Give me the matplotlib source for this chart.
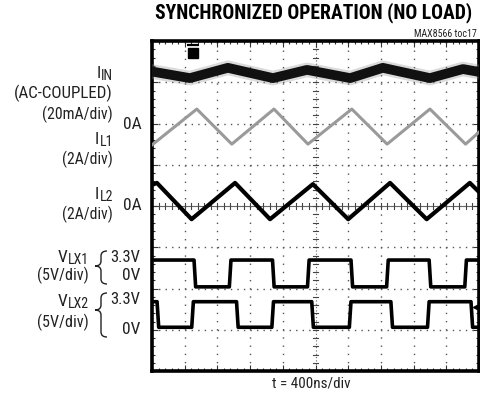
import matplotlib
matplotlib.use('Agg')
import matplotlib.pyplot as plt
from matplotlib import font_manager
from matplotlib.path import Path
from matplotlib.patches import PathPatch
from matplotlib.ticker import MultipleLocator

W, H = 481, 405

# ---- data (in scope divisions: x 0..10, y 0..8) ----
iin_x = [0.0, 1.16, 2.32, 3.70, 4.74, 6.06, 7.06, 8.50, 9.51, 10.0]
iin_y = [7.26, 7.10, 7.35, 7.10, 7.30, 7.10, 7.35, 7.10, 7.32, 7.25]

il1_x = [0.0, 1.37, 2.44, 3.73, 4.77, 6.11, 7.19, 8.50, 9.59, 10.0]
il1_y = [5.48, 6.35, 5.50, 6.35, 5.50, 6.35, 5.50, 6.35, 5.50, 5.79]

il2_x = [0.0, 0.15, 1.21, 2.54, 3.61, 4.92, 6.00, 7.28, 8.40, 9.72, 10.0]
il2_y = [4.51, 4.56, 3.68, 4.56, 3.68, 4.53, 3.68, 4.56, 3.68, 4.56, 4.34]

vlx1_levels = (2.04, 2.69)          # low, high
vlx1_start_high = True
vlx1_edges = [1.31, 2.39, 3.71, 4.78, 6.11, 7.20, 8.50, 9.59]

vlx2_levels = (1.06, 1.68)
vlx2_start_high = True
vlx2_edges = [0.18, 1.24, 2.61, 3.69, 4.91, 6.06, 7.33, 8.45, 9.78]

title = "SYNCHRONIZED OPERATION (NO LOAD)"
subtitle = "MAX8566 toc17"
xlabel = "t = 400ns/div"

# ---- pick a condensed font if one is installed ----
names = {f.name for f in font_manager.fontManager.ttflist}
FAM = None
STRETCH = 'normal'
for cand in ['Liberation Sans Narrow', 'Roboto Condensed', 'Open Sans Condensed',
             'Arial Narrow', 'Nimbus Sans Narrow']:
    if cand in names:
        FAM = cand
        break
if FAM is None:
    cond = [f for f in font_manager.fontManager.ttflist
            if 'condensed' in str(f.stretch).lower() or
            (isinstance(f.stretch, int) and f.stretch < 500)]
    for pref in ['DejaVu Sans', 'Roboto', 'Open Sans', 'Noto Sans', 'Liberation Sans']:
        if any(f.name == pref for f in cond):
            FAM = pref
            STRETCH = 'condensed'
            break
if FAM is None:
    FAM = 'Liberation Sans'
plt.rcParams['font.family'] = [FAM, 'DejaVu Sans']


def square(edges, levels, start_high, rise=0.05):
    lo, hi = levels
    state = start_high
    xs, ys = [0.0], [hi if state else lo]
    for e in edges:
        cur = hi if state else lo
        state = not state
        nxt = hi if state else lo
        xs += [e - rise / 2, e + rise / 2]
        ys += [cur, nxt]
    xs.append(10.0)
    ys.append(hi if state else lo)
    return xs, ys


fig = plt.figure(figsize=(W / 100, H / 100), dpi=100)
ax = fig.add_axes([152 / W, 1 - 371 / H, 327 / W, 330 / H])
ax.set_xlim(0, 10)
ax.set_ylim(0, 8)

# grid
for gx in range(1, 10):
    if gx == 5:
        continue
    ax.plot([gx, gx], [0, 8], color='#555555', lw=1.0,
            linestyle=(0, (1, 4.9)), zorder=1)
for gy in range(1, 8):
    if gy == 4:
        continue
    ax.plot([0, 10], [gy, gy], color='#555555', lw=1.0,
            linestyle=(0, (1, 3.7)), zorder=1)
# center axes with ticks
ax.axhline(4, color='#666666', lw=0.8, zorder=1)
ax.axvline(5, color='#666666', lw=0.8, linestyle=(0, (1, 2)), zorder=1)
for i in range(1, 50):
    t = i * 0.2
    ax.plot([t, t], [3.93, 4.07], color='#444444', lw=0.8, zorder=1)
for i in range(1, 40):
    t = i * 0.2
    ax.plot([4.93, 5.07], [t, t], color='#444444', lw=0.8, zorder=1)

ax.xaxis.set_major_locator(MultipleLocator(1))
ax.xaxis.set_minor_locator(MultipleLocator(0.2))
ax.yaxis.set_major_locator(MultipleLocator(1))
ax.yaxis.set_minor_locator(MultipleLocator(0.2))
ax.tick_params(which='both', direction='in', top=True, right=True,
               labelbottom=False, labelleft=False, color='#333333')
ax.tick_params(which='major', length=4, width=0.8)
ax.tick_params(which='minor', length=2.5, width=0.8)
for s in ax.spines.values():
    s.set_linewidth(2.6)
    s.set_color('black')

# traces
ax.plot(iin_x, iin_y, color='#888888', lw=10.5, alpha=0.3,
        solid_joinstyle='round', zorder=3)
ax.plot(iin_x, iin_y, color='#111111', lw=7, solid_joinstyle='round', zorder=4)
ax.plot(il1_x, il1_y, color='#9a9a9a', lw=2.2, zorder=4)
ax.plot(il2_x, il2_y, color='black', lw=3.0, zorder=4)
x1, y1 = square(vlx1_edges, vlx1_levels, vlx1_start_high)
ax.plot(x1, y1, color='black', lw=2.6, zorder=4)
x2, y2 = square(vlx2_edges, vlx2_levels, vlx2_start_high)
ax.plot(x2, y2, color='black', lw=2.6, zorder=4)

# trigger marker and reference arrow
ax.plot([1.25], [7.72], marker='s', color='black', ms=6.5, zorder=5)
ax.plot([1.25], [7.91], marker='_', color='black', ms=8, mew=1.6, zorder=5)
ax.plot([9.9], [1.54], marker='<', color='black', ms=5, zorder=5)


def P(x, y):
    return (x / W, 1 - y / H)


renderer = fig.canvas.get_renderer()


def txt(x, y, s, size=12.5, ha='right', va='center', fit=None,
        color='#222222', **kw):
    t = fig.text(*P(x, y), s, fontsize=size, ha=ha, va=va,
                 color=color, fontstretch=STRETCH, **kw)
    if fit is not None:
        w = t.get_window_extent(renderer).width
        t.set_fontsize(size * fit / w)
    return t


# title etc
txt(314, 13, title, size=15.5, ha='center', fontweight='bold', fit=318,
    color='black')
txt(477, 34, subtitle, size=7, fit=63)
txt(311, 384, xlabel, ha='center', fit=79)


def sublabel(xr, yc, main, sub):
    t = txt(xr, yc + 2.5, sub, size=10)
    bb = t.get_window_extent(renderer)
    txt(bb.x0 - 0.5, yc, main, size=12.5)


sublabel(113, 74, 'I', 'IN')
txt(113, 93, '(AC-COUPLED)', fit=100)
txt(113, 114, '(20mA/div)', fit=71)
txt(142, 124, '0A')
sublabel(113, 140, 'I', 'L1')
txt(113, 159, '(2A/div)', fit=51)
sublabel(113, 195, 'I', 'L2')
txt(142, 205, '0A')
txt(113, 214, '(2A/div)', fit=51)

sublabel(89, 257, 'V', 'LX1')
txt(89, 275, '(5V/div)', fit=52)
txt(140, 257, '3.3V', size=12)
txt(140, 276, '0V')
sublabel(89, 301, 'V', 'LX2')
txt(89, 322, '(5V/div)', fit=52)
txt(140, 300, '3.3V', size=12)
txt(140, 330, '0V')


def brace(xr, yt, ym, yb, xc, xl):
    r = 5
    verts = [P(xr, yt), P(xc, yt), P(xc, yt + r),
             P(xc, ym - r), P(xc, ym), P(xl, ym),
             P(xc, ym), P(xc, ym + r),
             P(xc, yb - r), P(xc, yb), P(xr, yb)]
    codes = [Path.MOVETO, Path.CURVE3, Path.CURVE3,
             Path.LINETO, Path.CURVE3, Path.CURVE3,
             Path.CURVE3, Path.CURVE3,
             Path.LINETO, Path.CURVE3, Path.CURVE3]
    fig.patches.append(PathPatch(Path(verts, codes), transform=fig.transFigure,
                                 fill=False, lw=1.0, edgecolor='#222222'))


brace(107, 251, 266, 284, 101, 95)
brace(107, 293, 310, 337, 101, 95)

fig.savefig('out.png', dpi=100)
